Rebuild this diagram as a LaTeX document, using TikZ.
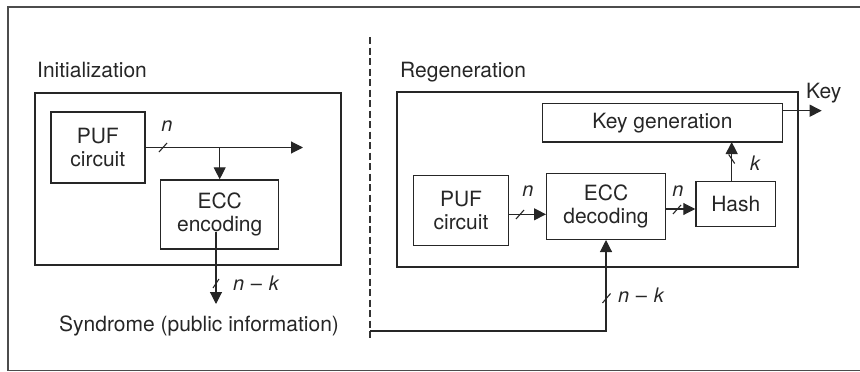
\documentclass[tikz,border=0pt]{standalone}
\usepackage{fontspec}
\setmainfont{TeX Gyre Heros}
\usetikzlibrary{arrows.meta,calc}
\begin{document}
\begin{tikzpicture}[x=1pt,y=-1pt,
  every node/.style={font=\fontsize{21}{22.5}\selectfont, text=black!85},
  blk/.style={draw=black!85, line width=1.4pt, inner sep=0pt, align=center},
  outerbox/.style={draw=black!85, line width=1.8pt, inner sep=0pt},
  conn/.style={draw=black!85, line width=1.1pt},
  arr/.style={conn, -{Triangle[length=12pt,width=12pt]}},
  lbl/.style={inner sep=0pt, font=\fontsize{20}{22}\selectfont\itshape},
  tick/.style={draw=black!85, line width=1.1pt}
]
\useasboundingbox (0,0) rectangle (860,372);
% outer frame (open on the right)
\draw[draw=black!70, line width=1.5pt] (860,7) -- (8,7) -- (8,370.5) -- (860,370.5);
% divider
\draw[draw=black!80, line width=1.1pt, dash pattern=on 7pt off 3.5pt] (370,37) -- (370,340);

% Initialization
\node[anchor=base west, inner sep=0pt] (tinit) at (37,77) {Initialization};
\node[outerbox, minimum width=306pt, minimum height=172pt] (boxA) at (188,179) {};
\node[blk, minimum width=94pt, minimum height=71pt] (pufA) at (97.8,147.5) {PUF\\circuit};
\node[blk, minimum width=118pt, minimum height=69pt] (encA) at (219.7,214.5) {ECC\\encoding};
\coordinate (outA) at (303,147.5);
\draw[arr] (pufA.east) -- (encA.north |- pufA.east) -- (encA.north);
\draw[arr] (encA.north |- pufA.east) -- (outA);
\draw[tick] (159,152) -- (167,143);
\node[lbl, anchor=base] (nA) at (167,131.7) {n};
\coordinate (encAout) at (216,232);
\coordinate (synTip) at (216,304);
\draw[arr] (encAout) -- (synTip);
\draw[tick] (213,288) -- (219,279);
\node[lbl, anchor=base west] (nkA) at (233,290) {n\,\,\upshape–\,\,\itshape k};
\node[anchor=base west, inner sep=0pt] (syn) at (59,331.5) {Syndrome (public information)};

% Regeneration
\node[anchor=base west, inner sep=0pt] (treg) at (400,77) {Regeneration};
\node[outerbox, minimum width=401pt, minimum height=174.4pt] (boxB) at (597.8,179.5) {};
\node[blk, minimum width=240.4pt, minimum height=38.7pt] (keyg) at (662.5,122.7) {Key generation};
\node[blk, minimum width=95.4pt, minimum height=70pt] (pufB) at (461,210.3) {PUF\\circuit};
\node[blk, minimum width=118.6pt, minimum height=66pt] (decB) at (606,206.3) {ECC\\decoding};
\node[blk, minimum width=79.7pt, minimum height=45pt] (hash) at (735.8,204.2) {Hash};
\node[anchor=base west, inner sep=0pt] (tkey) at (806,98) {Key};
\coordinate (keyTip) at (821.7,110.7);

\draw[arr] ($(pufB.east)+(0,4)$) -- ($(decB.west)+(0,8)$);
\draw[tick] (516,219) -- (524,210);
\node[lbl, anchor=base] (nB1) at (528,196.7) {n};

\draw[arr] ($(decB.east)+(0,2.7)$) -- ($(hash.west)+(0,4.8)$);
\draw[tick] (673,214) -- (681,205);
\node[lbl, anchor=base] (nB2) at (678,196.7) {n};

\draw[arr] (731.7,181.7) -- (731.7,142);
\draw[tick] (728.7,154.5) -- (734.7,163.5);
\node[lbl, anchor=base west] (kB) at (750,170) {k};

\draw[arr] (keyg.east |- keyTip) -- (keyTip);

\coordinate (synStart) at (370,331);
\draw[arr] (synStart) -- (decB.south |- synStart) -- (decB.south);
\draw[tick] (602.5,303) -- (610.5,293.5);
\node[lbl, anchor=base west] (nkB) at (618,302.7) {n\,\,\upshape–\,\,\itshape k};
\end{tikzpicture}
\end{document}
